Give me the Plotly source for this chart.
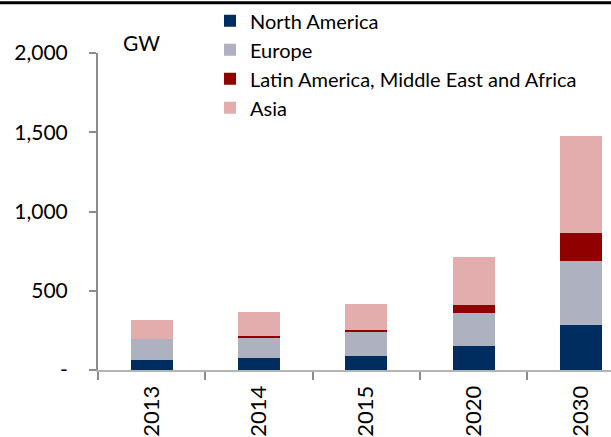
import plotly.graph_objects as go

years = ["2013", "2014", "2015", "2020", "2030"]
north_america = [65, 77, 90, 149, 287]
europe = [129, 128, 152, 213, 399]
latam_mea_africa = [0, 12, 11, 50, 176]
asia = [122, 149, 163, 301, 615]

series_names = ["North America", "Europe", "Latin America, Middle East and Africa", "Asia"]
series_values = [north_america, europe, latam_mea_africa, asia]
series_colors = ["#002D5F", "#ADB1C0", "#900000", "#E3ADAD"]

y_tickvals = [0, 500, 1000, 1500, 2000]
y_ticktext = ["-", "500", "1,000", "1,500", "2,000"]

FONT = "Lato, Liberation Sans, sans-serif"

fig = go.Figure()
for name, vals, col in zip(series_names, series_values, series_colors):
    fig.add_trace(go.Bar(x=years, y=vals, name=name, marker=dict(color=col, line=dict(width=0)),
                         width=0.39))

W, H = 611, 437
ml, mr, mt, mb = 98, 0, 53, 65
pw, ph = W - ml - mr, H - mt - mb

def px_x(x):
    return (x - ml) / pw

def px_y(y):
    return (H - mb - y) / ph

fig.update_layout(
    width=W, height=H,
    margin=dict(l=ml, r=mr, t=mt, b=mb, pad=0),
    barmode="stack",
    plot_bgcolor="white", paper_bgcolor="white",
    font=dict(family=FONT, size=21, color="#000000"),
    showlegend=True,
    legend=dict(x=px_x(210), y=px_y(1), xanchor="left", yanchor="top",
                traceorder="normal", bgcolor="rgba(0,0,0,0)",
                font=dict(family=FONT, size=20, color="#000000"),
                itemwidth=30, tracegroupgap=0),
    xaxis=dict(type="category", range=[-0.5, 4.28], showline=True, linecolor="#B4B4B4",
               linewidth=2, ticks="outside", tickson="boundaries", ticklen=8,
               tickcolor="#8C8C8C", tickwidth=2, tickangle=-90,
               ticklabelstandoff=5,
               tickfont=dict(family=FONT, size=22, color="#000000"),
               showgrid=False, zeroline=False, fixedrange=True),
    yaxis=dict(range=[0, 2000], tickvals=y_tickvals, ticktext=y_ticktext,
               showline=True, linecolor="#8C8C8C", linewidth=2, ticks="outside",
               ticklen=7, tickcolor="#8C8C8C", tickwidth=2,
               ticklabelstandoff=17,
               tickfont=dict(family=FONT, size=21, color="#000000"),
               showgrid=False, zeroline=False),
    annotations=[dict(text="GW", xref="paper", yref="paper", x=px_x(121), y=px_y(42),
                      xanchor="left", yanchor="middle", showarrow=False,
                      font=dict(family=FONT, size=21, color="#000000"))],
    shapes=[dict(type="line", xref="paper", yref="paper", x0=px_x(0), x1=px_x(W),
                 y0=px_y(2.5), y1=px_y(2.5), line=dict(color="black", width=3))],
)

fig.write_html("out.html")
